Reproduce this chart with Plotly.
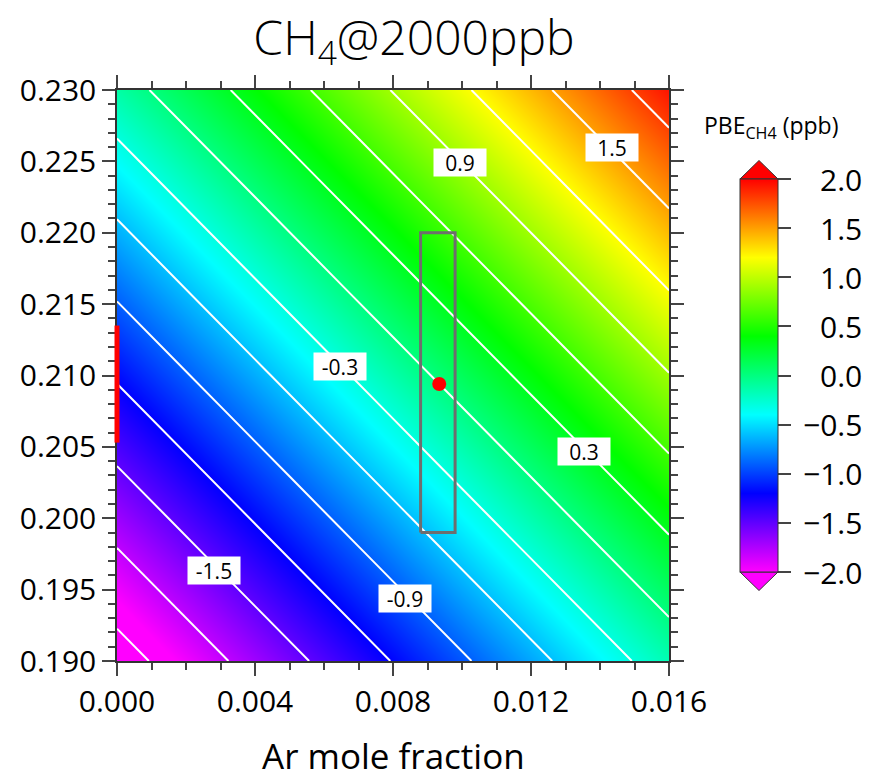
import plotly.graph_objects as go

# Grid of PBE_CH4 values (ppb) over Ar / O2 mole fraction
ar_frac = [0.000, 0.004, 0.008, 0.012, 0.016]
o2_frac = [0.19, 0.20, 0.21, 0.22, 0.23]
pbe_ch4 = [
    [-2.22, -1.70, -1.19, -0.68, -0.16],   # O2 = 0.19
    [-1.69, -1.18, -0.67, -0.15, 0.36],    # O2 = 0.20
    [-1.17, -0.66, -0.14, 0.37, 0.89],     # O2 = 0.21
    [-0.65, -0.13, 0.38, 0.90, 1.41],      # O2 = 0.22
    [-0.12, 0.39, 0.91, 1.42, 1.94],       # O2 = 0.23
]

# Contour levels and the labelled ones
contour_start, contour_end, contour_step = -2.1, 2.1, 0.3
label_levels = [-1.5, -0.9, -0.3, 0.3, 0.9, 1.5]
label_ar = [0.00281, 0.00835, 0.00646, 0.01354, 0.00994, 0.01435]
label_o2 = [0.19637, 0.19441, 0.2106, 0.20471, 0.22489, 0.22594]

# Ambient air reference point and ranges
ambient_ar = [0.00934]
ambient_o2 = [0.2094]
box_ar = [0.0088, 0.0098]
box_o2 = [0.1990, 0.2200]
o2_bar = [0.2053, 0.2135]

cbar_ticks = [2.0, 1.5, 1.0, 0.5, 0.0, -0.5, -1.0, -1.5, -2.0]
zmin, zmax = -2.0, 2.0

rainbow = [
    [0.0, "#ff00ff"], [0.2, "#0000ff"], [0.4, "#00ffff"],
    [0.6, "#00ff00"], [0.8, "#ffff00"], [1.0, "#ff0000"],
]

FONT = "Open Sans"
W, H = 875, 782
L, R, T, B = 117, 206, 90, 121
plot_w, plot_h = W - L - R, H - T - B

def px_x(px):
    return (px - L) / plot_w

def px_y(py):
    return (H - B - py) / plot_h

cb_x0, cb_x1 = px_x(740), px_x(778)
cb_top, cb_bot = px_y(179), px_y(572)
cb_len = cb_top - cb_bot
cb_mid = (cb_top + cb_bot) / 2

fig = go.Figure()

fig.add_trace(go.Heatmap(
    x=ar_frac, y=o2_frac, z=pbe_ch4,
    zmin=zmin, zmax=zmax, zsmooth="best",
    colorscale=rainbow,
    colorbar=dict(
        x=cb_x0, xanchor="left", y=cb_mid, yanchor="middle",
        len=cb_len, lenmode="fraction",
        thickness=38, thicknessmode="pixels",
        xpad=0, ypad=0, outlinewidth=1, outlinecolor="#333",
        tickvals=cbar_ticks, ticks="outside", ticklen=13, tickwidth=1.5,
        tickcolor="#444", showticklabels=False,
    ),
    hoverinfo="skip",
))

fig.add_trace(go.Contour(
    x=ar_frac, y=o2_frac, z=pbe_ch4,
    contours=dict(start=contour_start, end=contour_end, size=contour_step,
                  coloring="none", showlabels=False),
    line=dict(color="white", width=2),
    showscale=False, hoverinfo="skip",
))

# Uncertainty box around the ambient point
fig.add_trace(go.Scatter(
    x=[box_ar[0], box_ar[1], box_ar[1], box_ar[0], box_ar[0]],
    y=[box_o2[0], box_o2[0], box_o2[1], box_o2[1], box_o2[0]],
    mode="lines", line=dict(color="#6e6e6e", width=3),
    showlegend=False, hoverinfo="skip",
))

fig.add_trace(go.Scatter(
    x=ambient_ar, y=ambient_o2, mode="markers",
    marker=dict(color="#ff0000", size=14),
    showlegend=False, hoverinfo="skip",
))

shapes = [
    # O2 range marker on the left axis
    dict(type="line", xref="paper", yref="y", x0=0, x1=0,
         y0=o2_bar[0], y1=o2_bar[1], line=dict(color="#ff0000", width=5)),
    # colour-bar extension triangles
    dict(type="path", xref="paper", yref="paper",
         path=f"M {cb_x0},{cb_top} L {(cb_x0+cb_x1)/2},{cb_top + 18.5/plot_h} L {cb_x1},{cb_top} Z",
         fillcolor="#ff0000", line=dict(color="#333", width=1)),
    dict(type="path", xref="paper", yref="paper",
         path=f"M {cb_x0},{cb_bot} L {(cb_x0+cb_x1)/2},{cb_bot - 18.5/plot_h} L {cb_x1},{cb_bot} Z",
         fillcolor="#ff00ff", line=dict(color="#333", width=1)),
    # zero line inside the colour bar
    dict(type="line", xref="paper", yref="paper", x0=cb_x0, x1=cb_x1,
         y0=cb_bot + (0 - zmin) / (zmax - zmin) * cb_len,
         y1=cb_bot + (0 - zmin) / (zmax - zmin) * cb_len,
         line=dict(color="#666", width=1)),
]

annotations = []
for lv, ax_, oy in zip(label_levels, label_ar, label_o2):
    annotations.append(dict(
        x=ax_, y=oy, xref="x", yref="y", text=f"{lv:.1f}", showarrow=False,
        bgcolor="white", width=50, height=25, align="center", valign="middle",
        font=dict(family=FONT, size=21, color="black"),
    ))

for v in cbar_ticks:
    annotations.append(dict(
        x=px_x(864), y=cb_bot + (v - zmin) / (zmax - zmin) * cb_len,
        xref="paper", yref="paper", xanchor="right", yanchor="middle",
        text=f"{v:.1f}".replace("-", "\u2212"), showarrow=False,
        font=dict(family=FONT, size=30, color="black"),
    ))

annotations.append(dict(
    x=px_x(771), y=px_y(126), xref="paper", yref="paper",
    xanchor="center", yanchor="middle",
    text="PBE<sub>CH4</sub> (ppb)", showarrow=False,
    font=dict(family=FONT, size=23, color="black"),
))

# x-axis title
annotations.append(dict(
    x=0.5, y=px_y(755), xref="paper", yref="paper",
    xanchor="center", yanchor="middle",
    text="Ar mole fraction", showarrow=False,
    font=dict(family=FONT, size=35, color="black"),
))

axis_common = dict(
    showgrid=False, zeroline=False, showline=True, linecolor="#333",
    linewidth=1.5, mirror="allticks", ticks="outside", ticklen=13,
    tickwidth=1.5, tickcolor="#444", automargin=False,
    tickfont=dict(family=FONT, size=30, color="black"),
)

fig.update_layout(
    width=W, height=H,
    margin=dict(l=L, r=R, t=T, b=B, autoexpand=False),
    paper_bgcolor="white", plot_bgcolor="white",
    title=dict(text="CH<sub>4</sub>@2000ppb", x=px_x(414), xref="paper",
               xanchor="center", y=1 - 38 / H, yref="container", yanchor="middle",
               font=dict(family=FONT, size=48, color="black", weight=300)),
    xaxis=dict(range=[0, 0.016], dtick=0.004, tick0=0, tickformat=".3f",
               minor=dict(dtick=0.001, tick0=0, ticks="outside", ticklen=7,
                          tickwidth=1.5, tickcolor="#444"),
               **axis_common),
    yaxis=dict(range=[0.19, 0.23], dtick=0.005, tick0=0.19, tickformat=".3f",
               minor=dict(dtick=0.001, tick0=0.19, ticks="outside", ticklen=7,
                          tickwidth=1.5, tickcolor="#444"),
               **axis_common),
    shapes=shapes,
    annotations=annotations,
    showlegend=False,
)

fig.write_html("out.html")
